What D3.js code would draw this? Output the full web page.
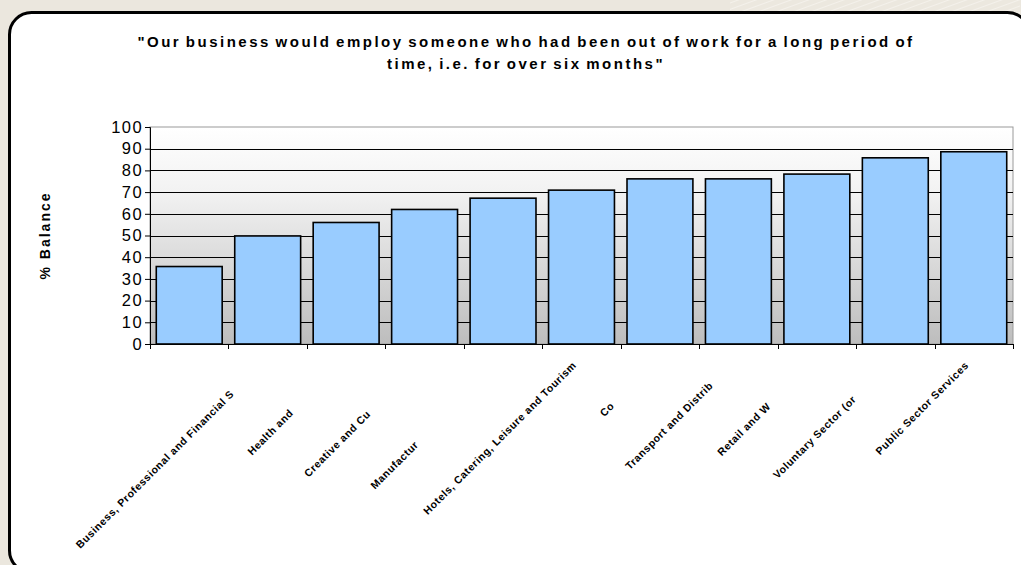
<!DOCTYPE html>
<html><head><meta charset="utf-8">
<script src="https://cdn.jsdelivr.net/npm/d3@7"></script>
<style>
html,body{margin:0;padding:0;background:#ebe7de;}
svg{display:block;}
</style></head>
<body>
<svg id="c" width="1021" height="565"></svg>
<script>
// full category names (used for label layout) and the truncated text visible under the axis
const categories = [
  "Business, Professional and Financial Services",
  "Health and Social Care",
  "Creative and Cultural Sector",
  "Manufacturing and Engineering",
  "Hotels, Catering, Leisure and Tourism",
  "Construction",
  "Transport and Distribution",
  "Retail and Wholesaling",
  "Voluntary Sector (or Charity)",
  "Public Sector Services",
  ""
];
const shownLabels = [
  "Business, Professional and Financial S",
  "Health and ",
  "Creative and Cu",
  "Manufactur",
  "Hotels, Catering, Leisure and Tourism",
  "Co",
  "Transport and Distrib",
  "Retail and W",
  "Voluntary Sector (or",
  "Public Sector Services",
  ""
];
const values = [35.7, 49.8, 56, 62, 67.2, 70.9, 76.1, 76.1, 78.3, 85.8, 88.6];
const yTicks = [0,10,20,30,40,50,60,70,80,90,100];
const titleLines = ["\"Our business would employ someone who had been out of work for a long period of", "time, i.e. for over six months\""];
const yTitle = "% Balance";

const svg = d3.select("#c");
const font = "Liberation Sans, Arial, sans-serif";

// decorative background stripes top-right
const defs = svg.append("defs");
const pat = defs.append("pattern").attr("id","stripes").attr("width",6).attr("height",6)
  .attr("patternUnits","userSpaceOnUse").attr("patternTransform","rotate(-20)");
pat.append("rect").attr("width",6).attr("height",6).attr("fill","#ece8df");
pat.append("line").attr("x1",0).attr("y1",0).attr("x2",6).attr("y2",0).attr("stroke","#f4f1eb").attr("stroke-width",2);
svg.append("rect").attr("x",730).attr("y",0).attr("width",290).attr("height",14).attr("fill","url(#stripes)");

// frame
svg.append("rect").attr("x",9.5).attr("y",12.5).attr("width",1020).attr("height",560)
  .attr("rx",22).attr("ry",22).attr("fill","#ffffff").attr("stroke","#000").attr("stroke-width",3);

// plot area
const m = {left:150, right:1013, top:127, bottom:344};
const x = d3.scaleBand().domain(d3.range(values.length)).range([m.left, m.right]).paddingInner(0.16).paddingOuter(0.08);
const y = d3.scaleLinear().domain([0,100]).range([m.bottom, m.top]);

const grad = defs.append("linearGradient").attr("id","pg").attr("x1",0).attr("y1",0).attr("x2",0).attr("y2",1);
grad.append("stop").attr("offset","0%").attr("stop-color","#ffffff");
grad.append("stop").attr("offset","30%").attr("stop-color","#f2f2f2");
grad.append("stop").attr("offset","100%").attr("stop-color","#bdbdbd");
svg.append("rect").attr("x",m.left).attr("y",m.top).attr("width",m.right-m.left).attr("height",m.bottom-m.top)
  .attr("fill","url(#pg)").attr("stroke","#9a9a9a").attr("stroke-width",1);

// gridlines
svg.append("g").selectAll("line").data(yTicks.filter(t => t > 0 && t < 100)).join("line")
  .attr("x1",m.left).attr("x2",m.right)
  .attr("y1",d => Math.round(y(d))+0.5).attr("y2",d => Math.round(y(d))+0.5)
  .attr("stroke","#000").attr("stroke-width",1);

// bars
svg.append("g").selectAll("rect").data(values).join("rect")
  .attr("x",(d,i) => x(i)).attr("width",x.bandwidth())
  .attr("y",d => y(d)).attr("height",d => y(0)-y(d))
  .attr("fill","#99ccff").attr("stroke","#000").attr("stroke-width",1.6);

// y axis
const yAxis = svg.append("g").attr("transform",`translate(${m.left},0)`)
  .call(d3.axisLeft(y).tickValues(yTicks).tickSize(5).tickPadding(2).tickFormat(d3.format("d")));
yAxis.select(".domain").attr("stroke","#000").attr("stroke-width",1);
yAxis.selectAll(".tick line").attr("stroke","#000");
yAxis.selectAll(".tick text").attr("font-family",font).attr("font-size",16.5).attr("letter-spacing",1.4)
  .attr("fill","#000");

// x axis: ticks at category boundaries
const bounds = d3.range(values.length + 1).map(i => m.left + i * (m.right - m.left) / values.length);
const xg = svg.append("g");
xg.append("line").attr("x1",m.left).attr("x2",m.right).attr("y1",m.bottom+0.5).attr("y2",m.bottom+0.5).attr("stroke","#000").attr("stroke-width",1.2);
xg.selectAll("line.t").data(bounds).join("line").attr("class","t")
  .attr("x1",d => Math.round(d)+0.5).attr("x2",d => Math.round(d)+0.5)
  .attr("y1",m.bottom).attr("y2",m.bottom+5).attr("stroke","#000");

// rotated category labels: end of full label anchored near the axis, visible (truncated) text drawn from its start
const labStyle = t => t.attr("font-family",font).attr("font-size",10.5).attr("font-weight","bold").attr("letter-spacing",0.6);
const lab = svg.append("g").selectAll("g").data(categories).join("g")
  .attr("transform",(d,i) => `translate(${x(i)+x.bandwidth()/2+74},${m.bottom+22}) rotate(-45)`);
lab.each(function(d,i){
  const g = d3.select(this);
  const probe = g.append("text").call(labStyle).text(d);
  const len = d ? probe.node().getComputedTextLength() : 0;
  probe.remove();
  g.append("text").attr("x",-len).attr("y",0).call(labStyle).attr("fill","#000").text(shownLabels[i]);
});

// titles
svg.append("g").selectAll("text").data(titleLines).join("text")
  .attr("x",526).attr("y",(d,i) => 47 + i*22).attr("text-anchor","middle")
  .attr("font-family",font).attr("font-size",15).attr("font-weight","bold").attr("letter-spacing",2.5)
  .attr("word-spacing",-2).attr("fill","#000").text(d => d);

svg.append("text").attr("transform",`translate(50,${(m.top+m.bottom)/2}) rotate(-90)`)
  .attr("text-anchor","middle").attr("font-family",font).attr("font-size",14).attr("font-weight","bold")
  .attr("letter-spacing",2).attr("fill","#000").text(yTitle);
</script>
</body></html>
